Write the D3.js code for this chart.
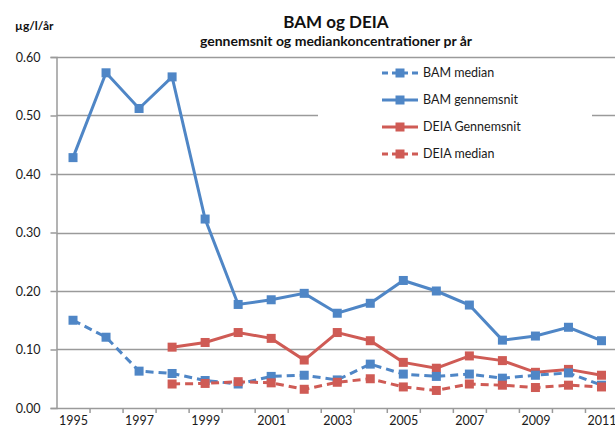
<!DOCTYPE html>
<html>
<head>
<meta charset="utf-8">
<script src="https://cdn.jsdelivr.net/npm/d3@7"></script>
<style>
  body { margin: 0; background: #fff; }
  svg { display: block; font-family: Lato, "Open Sans", sans-serif; }
</style>
</head>
<body>
<svg id="chart" width="615" height="432"></svg>
<script>
// data
const years = d3.range(1995, 2012);
const bamMedian = [0.150, 0.121, 0.063, 0.059, 0.047, 0.041, 0.054, 0.056, 0.048, 0.075, 0.058, 0.054, 0.058, 0.051, 0.056, 0.060, 0.039];
const bamMean = [0.428, 0.573, 0.512, 0.566, 0.323, 0.177, 0.185, 0.196, 0.162, 0.179, 0.218, 0.200, 0.176, 0.116, 0.123, 0.138, 0.115];
const deiaMean = [null, null, null, 0.104, 0.112, 0.129, 0.119, 0.082, 0.129, 0.115, 0.078, 0.068, 0.089, 0.081, 0.061, 0.066, 0.056];
const deiaMedian = [null, null, null, 0.041, 0.042, 0.045, 0.043, 0.032, 0.044, 0.050, 0.036, 0.030, 0.041, 0.039, 0.035, 0.039, 0.036];
const yTicks = [0, 0.1, 0.2, 0.3, 0.4, 0.5, 0.6];
const labelYears = [1995, 1997, 1999, 2001, 2003, 2005, 2007, 2009, 2011];

const series = [
  { name: 'BAM median', values: bamMedian, color: '#4f86c6', dash: '8,5' },
  { name: 'BAM gennemsnit', values: bamMean, color: '#4f86c6', dash: null },
  { name: 'DEIA Gennemsnit', values: deiaMean, color: '#cf5b55', dash: null },
  { name: 'DEIA median', values: deiaMedian, color: '#cf5b55', dash: '8,5' },
];
// draw order: dashed under solid like the reference
const drawOrder = [series[1], series[2], series[0], series[3]];

const svg = d3.select('#chart');
const plotLeft = 56.5, plotRight = 618, plotTop = 57, plotBottom = 408;

const x = d3.scaleLinear().domain([1994.5, 2011.5]).range([plotLeft, plotRight]);
const y = d3.scaleLinear().domain([0, 0.6]).range([plotBottom, plotTop]);

// gridlines
svg.append('g')
  .selectAll('line')
  .data(yTicks.filter(d => d > 0))
  .join('line')
  .attr('x1', plotLeft).attr('x2', 615)
  .attr('y1', d => Math.round(y(d)) + 0.5).attr('y2', d => Math.round(y(d)) + 0.5)
  .attr('stroke', '#9a9a9a')
  .attr('stroke-width', 1.5);

// y axis
const yAxisG = svg.append('g')
  .attr('transform', `translate(${plotLeft},0)`)
  .call(d3.axisLeft(y).tickValues(yTicks).tickFormat(d3.format('.2f')).tickSize(6).tickPadding(10));
yAxisG.select('.domain').attr('stroke', '#9a9a9a').attr('stroke-width', 1.5);
yAxisG.selectAll('.tick line').attr('stroke', '#9a9a9a').attr('stroke-width', 1.5);
yAxisG.selectAll('text').attr('font-size', 12.5).attr('fill', '#1a1a1a').attr('font-family', 'Lato, sans-serif');

// x axis: tick marks between years, labels at odd years
const xTickG = svg.append('g')
  .attr('transform', `translate(0,${plotBottom})`)
  .call(d3.axisBottom(x).tickValues(d3.range(1995.5, 2011.5, 1)).tickFormat('').tickSize(5).tickSizeOuter(0));
xTickG.select('.domain').attr('stroke', '#9a9a9a').attr('stroke-width', 1.5)
  .attr('d', `M${plotLeft},0.5H615`);
xTickG.selectAll('.tick line').attr('stroke', '#9a9a9a').attr('stroke-width', 1.5);

const xLabelG = svg.append('g')
  .attr('transform', `translate(0,${plotBottom})`)
  .call(d3.axisBottom(x).tickValues(labelYears).tickFormat(d3.format('d')).tickSize(0).tickPadding(8));
xLabelG.select('.domain').remove();
xLabelG.selectAll('text').attr('font-size', 12.5).attr('fill', '#1a1a1a').attr('font-family', 'Lato, sans-serif');

// lines and markers
const line = d3.line()
  .defined(d => d.v != null)
  .x(d => x(d.year))
  .y(d => y(d.v));

drawOrder.forEach(s => {
  const pts = years.map((yr, i) => ({ year: yr, v: s.values[i] }));
  const g = svg.append('g');
  g.append('path')
    .datum(pts)
    .attr('d', line)
    .attr('fill', 'none')
    .attr('stroke', s.color)
    .attr('stroke-width', 3)
    .attr('stroke-dasharray', s.dash);
  g.selectAll('rect')
    .data(pts.filter(d => d.v != null))
    .join('rect')
    .attr('x', d => x(d.year) - 4.5)
    .attr('y', d => y(d.v) - 4.5)
    .attr('width', 9)
    .attr('height', 9)
    .attr('fill', s.color);
});

// legend
const legend = svg.append('g');
legend.append('rect')
  .attr('x', 318).attr('y', 59)
  .attr('width', 274).attr('height', 112)
  .attr('fill', '#fff');
const items = legend.selectAll('g.item')
  .data(series)
  .join('g')
  .attr('class', 'item')
  .attr('transform', (d, i) => `translate(382,${73 + i * 27})`);
items.append('line')
  .attr('x1', 0).attr('x2', 36)
  .attr('stroke', d => d.color)
  .attr('stroke-width', 3)
  .attr('stroke-dasharray', d => d.dash ? '6,4' : null);
items.append('rect')
  .attr('x', 13.5).attr('y', -4.5)
  .attr('width', 9).attr('height', 9)
  .attr('fill', d => d.color);
items.append('text')
  .attr('x', 41)
  .attr('dy', '0.35em')
  .attr('font-size', 12.5)
  .attr('fill', '#1a1a1a')
  .text(d => d.name);

// titles
svg.append('text')
  .attr('x', 336).attr('y', 28)
  .attr('text-anchor', 'middle')
  .attr('font-size', 17)
  .attr('font-weight', 'bold')
  .attr('fill', '#111')
  .text('BAM og DEIA');
svg.append('text')
  .attr('x', 336).attr('y', 46)
  .attr('text-anchor', 'middle')
  .attr('font-size', 14)
  .attr('font-weight', 'bold')
  .attr('fill', '#111')
  .text('gennemsnit og mediankoncentrationer pr år');
svg.append('text')
  .attr('x', 15).attr('y', 30)
  .attr('font-size', 12)
  .attr('font-weight', 'bold')
  .attr('fill', '#111')
  .text('µg/l/år');
</script>
</body>
</html>
